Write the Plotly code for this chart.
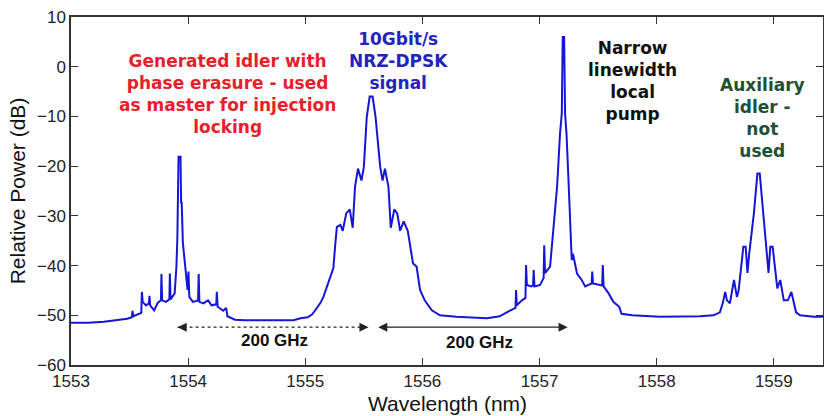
import plotly.graph_objects as go

# Spectrum
wavelength_nm = [
    1553.00, 1553.15, 1553.28, 1553.36, 1553.42, 1553.48, 1553.52, 1553.525, 1553.532,
    1553.58, 1553.600, 1553.605, 1553.612, 1553.64, 1553.665, 1553.670, 1553.676,
    1553.71, 1553.74, 1553.768, 1553.772, 1553.778, 1553.81, 1553.840, 1553.844,
    1553.850, 1553.885, 1553.900, 1553.908, 1553.918, 1553.935, 1553.940, 1553.945,
    1553.955, 1553.975, 1553.995, 1554.003, 1554.010, 1554.040, 1554.085, 1554.090,
    1554.096, 1554.13, 1554.17, 1554.20, 1554.240, 1554.245, 1554.252, 1554.30,
    1554.325, 1554.335, 1554.40, 1554.48, 1554.70, 1554.90,
    1554.96, 1555.02, 1555.06, 1555.10, 1555.13, 1555.155, 1555.18, 1555.20, 1555.22,
    1555.24, 1555.255, 1555.27, 1555.30, 1555.32, 1555.35, 1555.38, 1555.405, 1555.425,
    1555.45, 1555.48, 1555.50, 1555.525, 1555.55, 1555.575, 1555.60, 1555.64, 1555.66,
    1555.68, 1555.71, 1555.73, 1555.76, 1555.785, 1555.81, 1555.84, 1555.875, 1555.92,
    1555.95, 1555.98, 1556.02, 1556.08, 1556.15, 1556.29, 1556.55, 1556.66,
    1556.72, 1556.78, 1556.795, 1556.80, 1556.805, 1556.85, 1556.880, 1556.885,
    1556.892, 1556.93, 1556.945, 1556.950, 1556.957, 1557.005, 1557.035, 1557.040,
    1557.047, 1557.09, 1557.12, 1557.15, 1557.175, 1557.19, 1557.198, 1557.21,
    1557.218, 1557.23, 1557.245, 1557.265, 1557.275, 1557.285, 1557.32, 1557.36,
    1557.39, 1557.445, 1557.450, 1557.456, 1557.50, 1557.535, 1557.540, 1557.547,
    1557.59, 1557.63, 1557.68, 1557.70, 1557.79, 1558.03,
    1558.37, 1558.485, 1558.54, 1558.565, 1558.585, 1558.60, 1558.625, 1558.66,
    1558.685, 1558.70, 1558.74, 1558.76, 1558.775, 1558.79, 1558.83, 1558.86, 1558.88,
    1558.91, 1558.94, 1558.955, 1558.97, 1558.99, 1559.03, 1559.055, 1559.085,
    1559.12, 1559.15, 1559.19, 1559.225, 1559.34, 1559.45,
]
relative_power_db = [
    -51.5, -51.5, -51.3, -51.1, -51.0, -50.7, -50.4, -49.1, -50.2,
    -49.8, -49.5, -45.3, -47.3, -48.0, -47.6, -46.1, -48.0,
    -49.0, -47.5, -47.0, -41.7, -47.0, -47.3, -46.8, -41.6,
    -46.8, -45.6, -40.2, -34.5, -18.1, -18.1, -27.5, -27.2,
    -35.4, -40.8, -44.9, -41.2, -46.3, -47.3, -47.0, -41.7,
    -47.3, -47.6, -47.0, -48.0, -47.8, -45.3, -48.3, -49.1,
    -48.5, -50.2, -50.9, -51.0, -51.0, -51.0,
    -50.6, -50.4, -49.8, -48.6, -47.5, -46.3, -44.5, -42.9, -41.5,
    -40.5, -36.0, -32.2, -31.8, -33.0, -29.5, -28.7, -32.4, -24.1,
    -20.5, -22.9, -20.2, -10.1, -6.0, -6.0, -10.1, -20.2, -22.9,
    -20.5, -24.1, -32.4, -28.7, -29.5, -33.0, -31.1, -33.0, -39.6,
    -40.2, -44.9, -47.0, -49.0, -50.0, -50.3, -50.6, -50.2,
    -49.4, -48.6, -48.5, -44.9, -48.0, -47.0, -46.5, -39.9,
    -43.9, -44.2, -44.0, -40.9, -44.2, -43.9, -42.5, -35.9,
    -41.5, -40.2, -32.2, -24.1, -13.4, -9.4, 6.0, 6.0,
    -9.4, -13.4, -21.5, -34.9, -38.9, -37.6, -41.6, -42.9,
    -44.2, -43.6, -41.2, -43.6, -43.8, -44.0, -39.9, -44.2,
    -45.6, -47.3, -48.3, -49.7, -50.0, -50.3,
    -50.2, -50.0, -49.4, -47.5, -45.3, -47.0, -47.6, -42.9,
    -46.3, -45.0, -36.2, -36.2, -41.5, -37.6, -29.5, -21.5, -21.5,
    -29.5, -37.6, -41.5, -36.2, -36.2, -44.6, -42.9, -47.0,
    -47.0, -45.3, -49.4, -50.0, -50.3, -50.3,
]

x_tick_values = [1553, 1554, 1555, 1556, 1557, 1558, 1559]
y_tick_values = [-60, -50, -40, -30, -20, -10, 0, 10]
x_title = "Wavelength (nm)"
y_title = "Relative Power (dB)"

label_texts = [
    "Generated idler with<br>phase erasure - used<br>as master for injection<br>locking",
    "10Gbit/s<br>NRZ-DPSK<br>signal",
    "Narrow<br>linewidth<br>local<br>pump",
    "Auxiliary<br>idler -<br>not<br>used",
]
label_x = [1554.34, 1555.80, 1557.79, 1558.90]
label_y = [-5.5, 1.2, -2.9, -10.3]
label_colors = ["#e8202a", "#2323c0", "#111111", "#1f5036"]

spacing_text = ["200 GHz", "200 GHz"]
spacing_start = [1553.91, 1555.61]
spacing_end = [1555.54, 1557.24]
spacing_level = -52.4
spacing_text_x = [1554.74, 1556.49]
spacing_text_y = [-55.0, -55.4]

fig = go.Figure()
fig.add_trace(go.Scatter(
    x=wavelength_nm, y=relative_power_db, mode="lines",
    line=dict(color="#1515d8", width=2), showlegend=False, hoverinfo="skip",
))

annotations = []
for t, x, y, c in zip(label_texts, label_x, label_y, label_colors):
    annotations.append(dict(
        x=x, y=y, xref="x", yref="y", text=t, showarrow=False,
        font=dict(family="DejaVu Sans", size=17, color=c, weight="bold"),
        align="center", xanchor="center", yanchor="middle",
    ))

for t, x, y in zip(spacing_text, spacing_text_x, spacing_text_y):
    annotations.append(dict(
        x=x, y=y, xref="x", yref="y", text=t, showarrow=False,
        font=dict(family="Liberation Sans", size=17, color="#111111", weight="bold"),
        xanchor="center", yanchor="middle",
    ))

# x axis title placed just under the tick labels
annotations.append(dict(
    x=0.5, y=-0.11, xref="paper", yref="paper", text=x_title, showarrow=False,
    font=dict(family="Liberation Sans", size=21, color="#111111"),
    xanchor="center", yanchor="middle",
))

# first spacing: dotted line with two arrowheads
fig.add_shape(type="line", x0=spacing_start[0], x1=spacing_end[0], y0=spacing_level, y1=spacing_level,
              xref="x", yref="y", line=dict(color="#222222", width=1.3, dash="dot"))
for tip, tail in [(spacing_start[0], spacing_start[0] + 0.05), (spacing_end[0], spacing_end[0] - 0.05)]:
    annotations.append(dict(
        x=tip, y=spacing_level, ax=tail, ay=spacing_level, xref="x", yref="y",
        axref="x", ayref="y", showarrow=True, arrowhead=2, arrowsize=1.4,
        arrowwidth=1.3, arrowcolor="#222222", text="", standoff=0,
    ))
# second spacing: solid double arrow
annotations.append(dict(
    x=spacing_end[1], y=spacing_level, ax=spacing_start[1], ay=spacing_level,
    xref="x", yref="y", axref="x", ayref="y", showarrow=True,
    arrowhead=2, startarrowhead=2, arrowside="end+start", arrowsize=1.4,
    arrowwidth=1.3, arrowcolor="#222222", text="", standoff=0, startstandoff=0,
))

axis_common = dict(
    showline=True, mirror="ticks", linecolor="#333333", linewidth=1.5,
    ticks="inside", ticklen=7, tickcolor="#333333", tickwidth=1.2,
    showgrid=False, zeroline=False,
    tickfont=dict(family="Liberation Sans", size=17, color="#222222"),
    title_font=dict(family="Liberation Sans", size=21, color="#111111"),
)

fig.update_layout(
    width=824, height=416,
    margin=dict(l=71, r=1, t=17, b=51, autoexpand=False),
    paper_bgcolor="white", plot_bgcolor="white",
    annotations=annotations,
    xaxis=dict(range=[1553, 1559.42], tickvals=x_tick_values, **axis_common),
    yaxis=dict(range=[-60, 10], tickvals=y_tick_values,
               title=dict(text=y_title, standoff=6), **axis_common),
)

fig.write_html(
    "out.html",
    config={"displayModeBar": False},
    post_script="document.body.style.margin='0';document.body.style.overflow='hidden';",
)
